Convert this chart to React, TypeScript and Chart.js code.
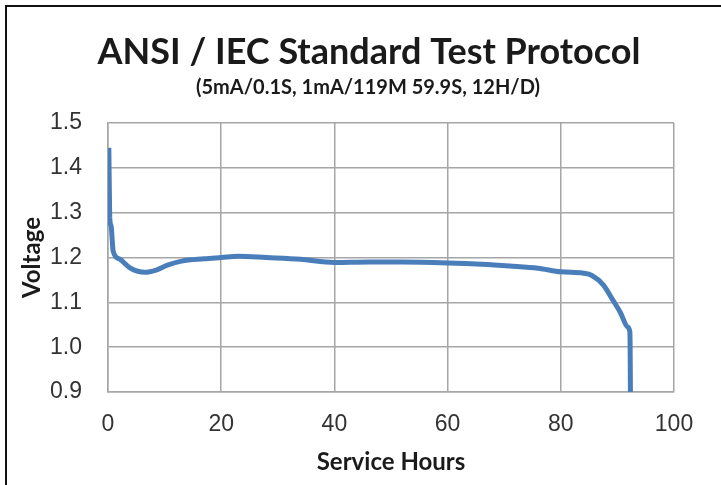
import React, { useEffect, useRef } from "react";
import { Chart, registerables } from "chart.js";

Chart.register(...registerables);

const TITLE = "ANSI / IEC Standard Test Protocol";
const SUBTITLE = "(5mA/0.1S, 1mA/119M 59.9S, 12H/D)";
const X_TITLE = "Service Hours";
const Y_TITLE = "Voltage";

const HOURS = [0.15, 0.3, 0.55, 0.9, 2, 4, 6.5, 8.5, 10.5, 13, 17, 20, 23, 28, 34, 40, 46, 52, 60, 66, 71, 76, 80, 84, 85.5, 87.5, 89.2, 90.5, 91.8, 92.2, 92.25, 92.3];
const VOLTS = [1.445, 1.29, 1.27, 1.215, 1.197, 1.176, 1.167, 1.172, 1.183, 1.192, 1.197, 1.2, 1.203, 1.2, 1.196, 1.189, 1.19, 1.19, 1.188, 1.185, 1.181, 1.176, 1.168, 1.165, 1.16, 1.139, 1.105, 1.078, 1.045, 1.034, 1.0, 0.9];

const X_MIN = 0;
const X_MAX = 100;
const X_STEP = 20;
const Y_MIN = 0.9;
const Y_MAX = 1.5;
const Y_STEP = 0.1;

const frameAndTitles = {
  id: "frameAndTitles",
  afterDraw(chart: any) {
    const ctx = chart.ctx;
    ctx.save();
    ctx.fillStyle = "#111";
    ctx.fillRect(5, 5, 2, 480);
    ctx.fillRect(5, 5, 716, 2);
    ctx.fillStyle = "#1a1a1a";
    ctx.textAlign = "center";
    ctx.textBaseline = "middle";
    ctx.font = "bold 36px Lato";
    ctx.fillText(TITLE, 369, 52);
    ctx.font = "bold 20px Lato";
    ctx.fillText(SUBTITLE, 368, 88);
    ctx.restore();
  },
};

export default function App() {
  const ref = useRef<HTMLCanvasElement | null>(null);

  useEffect(() => {
    let chart: Chart | null = null;
    let cancelled = false;
    const make = () => {
      if (cancelled || !ref.current) return;
      const grid = "#a6a6a6";
      chart = new Chart(ref.current, {
        type: "line",
        data: {
          datasets: [
            {
              data: HOURS.map((h, i) => ({ x: h, y: VOLTS[i] })),
              borderColor: "#4a7ebb",
              borderWidth: 5,
              pointRadius: 0,
              cubicInterpolationMode: "monotone",
              fill: false,
            },
          ],
        },
        options: {
          responsive: false,
          animation: false,
          layout: { padding: { left: 10, right: 47, top: 123, bottom: 8 } },
          plugins: { legend: { display: false }, tooltip: { enabled: false }, title: { display: false } },
          scales: {
            x: {
              type: "linear",
              min: X_MIN,
              max: X_MAX,
              ticks: {
                stepSize: X_STEP,
                color: "#333",
                font: { family: "Liberation Sans", size: 23 },
                padding: 19,
                maxRotation: 0,
              },
              grid: { color: grid, lineWidth: 1.5, drawTicks: false },
              border: { color: grid, width: 1.5 },
              title: {
                display: true,
                text: X_TITLE,
                color: "#1a1a1a",
                font: { family: "Lato", size: 24, weight: "bold" },
                padding: { top: 0, bottom: 0 },
              },
              afterFit: (s: any) => {
                s.height = 85;
              },
            },
            y: {
              type: "linear",
              min: Y_MIN,
              max: Y_MAX,
              ticks: {
                stepSize: Y_STEP,
                color: "#333",
                font: { family: "Liberation Sans", size: 23 },
                padding: 26,
                callback: (v: any) => Number(v).toFixed(1),
              },
              grid: { color: grid, lineWidth: 1.5, drawTicks: false },
              border: { color: grid, width: 1.5 },
              title: {
                display: true,
                text: Y_TITLE,
                color: "#1a1a1a",
                font: { family: "Lato", size: 24, weight: "bold" },
                padding: { top: 8, bottom: 0 },
              },
              afterFit: (s: any) => {
                s.width = 98;
              },
            },
          },
        },
        plugins: [frameAndTitles],
      } as any);
    };
    const fontsReady = (document as any).fonts
      ? Promise.all([
          (document as any).fonts.load("bold 36px Lato"),
          (document as any).fonts.load("23px 'Liberation Sans'"),
        ]).catch(() => null)
      : Promise.resolve();
    fontsReady.then(make);
    return () => {
      cancelled = true;
      if (chart) chart.destroy();
    };
  }, []);

  return (
    <div style={{ position: "fixed", left: 0, top: 0, width: 721, height: 485, background: "#fff" }}>
      <canvas ref={ref} width={721} height={485} style={{ display: "block" }} />
    </div>
  );
}
